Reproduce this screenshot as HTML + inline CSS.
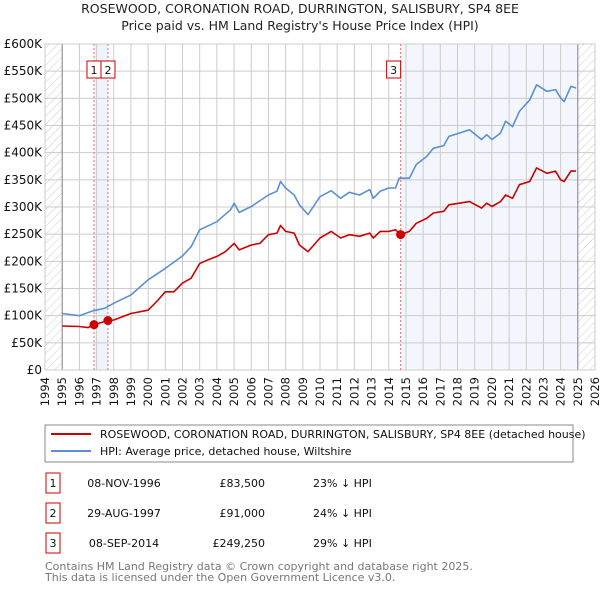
<!DOCTYPE html>
<html><head><meta charset="utf-8"><style>
body{margin:0;background:#fff;font-family:"DejaVu Sans","Liberation Sans",sans-serif;}
svg text{font-family:"DejaVu Sans","Liberation Sans",sans-serif;}
</style></head><body>
<svg id="c" width="600" height="590" xmlns="http://www.w3.org/2000/svg">
<defs><pattern id="hatch" width="6" height="6" patternUnits="userSpaceOnUse" patternTransform="rotate(45)"><line x1="0" y1="0" x2="0" y2="6" stroke="#ccc" stroke-width="1"/></pattern></defs>
<text x="300" y="13" text-anchor="middle" font-size="12.5" fill="#222">ROSEWOOD, CORONATION ROAD, DURRINGTON, SALISBURY, SP4 8EE</text>
<text x="300" y="30" text-anchor="middle" font-size="12.5" fill="#222">Price paid vs. HM Land Registry's House Price Index (HPI)</text>
<g id="plot"></g>
<rect x="45" y="425" width="528" height="37" fill="#fff" stroke="#888"/>
<line x1="51" y1="434" x2="91" y2="434" stroke="#cc0000" stroke-width="2"/>
<text x="100" y="438" font-size="11" fill="#111">ROSEWOOD, CORONATION ROAD, DURRINGTON, SALISBURY, SP4 8EE (detached house)</text>
<line x1="51" y1="451" x2="91" y2="451" stroke="#5b8fd4" stroke-width="2"/>
<text x="100" y="455" font-size="11" fill="#111">HPI: Average price, detached house, Wiltshire</text>
<g id="table" font-size="11" fill="#111"></g>
<text x="45" y="570" font-size="11" fill="#777">Contains HM Land Registry data © Crown copyright and database right 2025.</text>
<text x="45" y="581" font-size="11" fill="#777">This data is licensed under the Open Government Licence v3.0.</text>
</svg>
<script>
const hpiYears=[1995,1996,1996.8,1997.5,1998,1999,2000,2001,2002,2002.5,2003,2004,2004.8,2005,2005.3,2006,2007,2007.5,2007.7,2008,2008.5,2008.8,2009.3,2010,2010.65,2011.2,2011.7,2012.3,2012.9,2013.1,2013.5,2014,2014.4,2014.6,2015.2,2015.6,2016.2,2016.6,2017.2,2017.5,2018.1,2018.7,2019.4,2019.7,2020,2020.5,2020.8,2021.2,2021.6,2022.2,2022.6,2023.2,2023.7,2024,2024.2,2024.6,2024.9];
const hpiValues=[104,100,109,114,123,138,166,187,210,227,258,273,295,307,290,301,322,329,347,335,322,304,286,319,330,316,327,322,332,316,329,335,335,353,353,378,393,408,413,430,436,442,424,433,424,436,458,448,476,497,525,513,516,501,494,522,519];
const priceYears=[1995,1996,1996.5,1996.85,1997.66,1998,1999,2000,2000.5,2001,2001.5,2002,2002.5,2003,2003.5,2004,2004.5,2005,2005.3,2006,2006.5,2007,2007.5,2007.7,2008,2008.5,2008.8,2009.3,2010,2010.65,2011.2,2011.7,2012.3,2012.9,2013.1,2013.5,2014,2014.4,2014.69,2015.2,2015.6,2016.2,2016.6,2017.2,2017.5,2018.1,2018.7,2019.4,2019.7,2020,2020.5,2020.8,2021.2,2021.6,2022.2,2022.6,2023.2,2023.7,2024,2024.2,2024.6,2024.9];
const priceValues=[81,80,78,83.5,91,92,104,110,126,144,144,160,169,196,203,209,218,233,221,230,233,249,252,266,255,252,230,218,243,255,243,249,246,252,243,255,255,258,249.25,255,270,279,289,292,304,307,310,298,307,301,310,322,316,341,347,372,362,366,350,347,366,366];
const saleYears=[1996.85,1997.66,2014.69];
const saleValues=[83.5,91,249.25];
const saleLabels=["1","2","3"];
const saleDates=["08-NOV-1996","29-AUG-1997","08-SEP-2014"];
const salePrices=["£83,500","£91,000","£249,250"];
const salePcts=["23% ↓ HPI","24% ↓ HPI","29% ↓ HPI"];
const yTicks=[0,50,100,150,200,250,300,350,400,450,500,550,600];
const xTicks=[1994,1995,1996,1997,1998,1999,2000,2001,2002,2003,2004,2005,2006,2007,2008,2009,2010,2011,2012,2013,2014,2015,2016,2017,2018,2019,2020,2021,2022,2023,2024,2025,2026];

const NS="http://www.w3.org/2000/svg";
const L=45,R=595,T=44,B=370;
const x=y=>L+(y-1994)*(R-L)/32;
const yv=v=>B-v*(B-T)/600;
const g=document.getElementById('plot');
function mk(tag,attrs,parent){const e=document.createElementNS(NS,tag);for(const k in attrs)e.setAttribute(k,attrs[k]);(parent||g).appendChild(e);return e;}
let e;
e=mk('rect',{x:L,y:T,width:R-L,height:B-T,fill:'#fff'});


e=mk('rect',{x:x(saleYears[0]),y:T,width:x(saleYears[1])-x(saleYears[0]),height:B-T,fill:'#eef3fc'});


e=mk('rect',{x:x(saleYears[2]),y:T,width:x(2025)-x(saleYears[2]),height:B-T,fill:'#f3f6fd'});


e=mk('rect',{x:L,y:T,width:x(1995)-L,height:B-T,fill:'url(#hatch)'});


e=mk('rect',{x:x(2025),y:T,width:R-x(2025),height:B-T,fill:'url(#hatch)'});


yTicks.forEach(v=>{
  e=mk('line',{x1:L,x2:R,y1:yv(v),y2:yv(v),stroke:'#ccc','stroke-width':1});
  
  
  e=mk('text',{x:L-3,y:yv(v)+4,'text-anchor':'end','font-size':12,fill:'#111'});
  e.textContent=v===0?'£0':'£'+v+'K';
  
  
});
xTicks.forEach((yr,i)=>{
  e=mk('line',{x1:x(yr),x2:x(yr),y1:T,y2:B,stroke:'#ccc','stroke-width':1});
  
  
  const tx=x(yr)+4,ty=377;
  e=mk('text',{x:tx,y:ty,'text-anchor':'end','font-size':11.5,fill:'#111',transform:'rotate(-90 '+tx+' '+ty+')'});
  e.textContent=yr;
  
  
});
e=mk('line',{x1:x(1995),x2:x(1995),y1:T,y2:B,stroke:'#888'});


e=mk('line',{x1:x(2025),x2:x(2025),y1:T,y2:B,stroke:'#888'});


e=mk('rect',{x:L,y:T,width:R-L,height:B-T,fill:'none',stroke:'#ccc'});


saleYears.forEach((yr,i)=>{
  e=mk('line',{x1:x(yr),x2:x(yr),y1:T,y2:B,stroke:'#f07070','stroke-dasharray':'2,2'});
  
  
});
function path(xs,vs,col,name){
  const d=xs.map((yr,i)=>(i?'L':'M')+x(yr).toFixed(1)+','+yv(vs[i]).toFixed(1)).join('');
  e=mk('path',{d:d,fill:'none',stroke:col,'stroke-width':1.6,'stroke-linejoin':'round'});
  
  
}
path(hpiYears,hpiValues,'#5b8fd4','hpi-line');
path(priceYears,priceValues,'#cc0000','price-line');
saleYears.forEach((yr,i)=>{
  e=mk('circle',{cx:x(yr),cy:yv(saleValues[i]),r:4.5,fill:'#cc0000'});
  
  
});
saleLabels.forEach((lab,i)=>{
  const bx=i===1?x(saleYears[0])+7:(i===0?x(saleYears[0])-7:x(saleYears[2])-14);
  e=mk('rect',{x:bx,y:61,width:14,height:17,fill:'#fff',stroke:'#cc0000'});
  
  
  e=mk('text',{x:bx+7,y:74,'text-anchor':'middle','font-size':11,fill:'#111'});
  e.textContent=lab;
  
  
});
const tb=document.getElementById('table');
saleLabels.forEach((lab,i)=>{
  const cy=483+i*30;
  e=mk('rect',{x:46,y:cy-10,width:14,height:20,fill:'#fff',stroke:'#cc0000'},tb);
  
  
  e=mk('text',{x:53,y:cy+4,'text-anchor':'middle'},tb);e.textContent=lab;
  
  
  e=mk('text',{x:124,y:cy+4,'text-anchor':'middle'},tb);e.textContent=saleDates[i];
  
  
  e=mk('text',{x:265,y:cy+4,'text-anchor':'end'},tb);e.textContent=salePrices[i];
  
  
  e=mk('text',{x:313,y:cy+4},tb);e.textContent=salePcts[i];
  
  
});
</script>
</body></html>
